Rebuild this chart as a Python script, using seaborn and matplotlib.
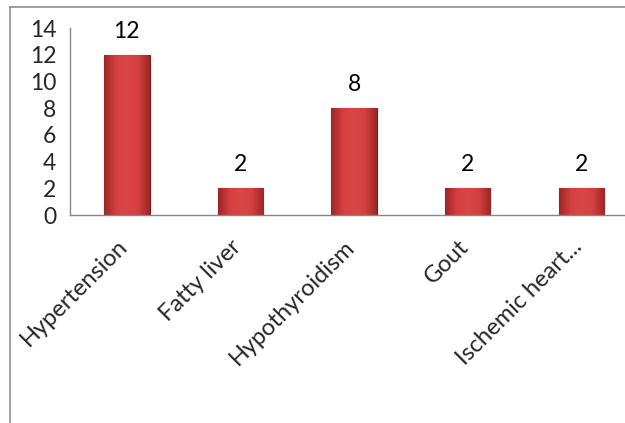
import numpy as np
import matplotlib
matplotlib.use('Agg')
import matplotlib.pyplot as plt
import seaborn as sns
from matplotlib.lines import Line2D
from matplotlib.colors import LinearSegmentedColormap
from matplotlib.transforms import ScaledTranslation

# data
categories = ['Hypertension', 'Fatty liver', 'Hypothyroidism', 'Gout', 'Ischemic heart...']
counts = [12, 2, 8, 2, 2]
yticks = [0, 2, 4, 6, 8, 10, 12, 14]

sns.set_style('white')
plt.rcParams['font.family'] = ['Lato', 'DejaVu Sans']

fig = plt.figure(figsize=(6.25, 4.23), dpi=100)
ax = fig.add_axes([0.112, 0.4917, 0.909, 0.442])

sns.barplot(x=categories, y=counts, color='#C63A3A', width=0.4, ax=ax,
            edgecolor='#7E1A1A', linewidth=0.8)

# bevel-ish gradient on each bar
cmap = LinearSegmentedColormap.from_list('bev', ['#9E2626', '#D43F3F', '#DA4646', '#D43F3F', '#9E2626'])
grad = np.linspace(0, 1, 64).reshape(1, -1)
for p in ax.patches:
    x0, y0 = p.get_x(), p.get_y()
    w, h = p.get_width(), p.get_height()
    im = ax.imshow(grad, extent=[x0, x0 + w, y0, y0 + h], aspect='auto',
                   cmap=cmap, zorder=p.get_zorder() + 0.1)
    im.set_clip_path(p)
    ax.text(x0 + w / 2, h + 1.75, str(int(h)), ha='center', va='center',
            fontsize=16.5, color='black')

ax.set_xlim(-0.5, len(categories) - 0.5)
ax.set_ylim(0, 14)
ax.set_yticks(yticks)
ax.set_yticklabels([str(v) for v in yticks], fontsize=16.5)

# ticks at category boundaries, labels at centres
ax.set_xticks(np.arange(-0.5, len(categories), 1.0))
ax.set_xticklabels([])
ax.set_xticks(np.arange(len(categories)), minor=True)
ax.set_xticklabels(categories, minor=True, rotation=45, ha='right',
                   rotation_mode='anchor', fontsize=17)
ax.tick_params(axis='x', which='minor', length=0, pad=15)
ax.tick_params(axis='x', which='major', length=6, color='#868686', width=1, direction='out')
ax.tick_params(axis='y', length=6, color='#868686', width=1, direction='out', pad=4)

shift = ScaledTranslation(-10 / 100, 0, fig.dpi_scale_trans)
for lab in ax.get_xticklabels(minor=True):
    lab.set_transform(lab.get_transform() + shift)

for s in ['top', 'right']:
    ax.spines[s].set_visible(False)
for s in ['left', 'bottom']:
    ax.spines[s].set_color('#868686')
    ax.spines[s].set_linewidth(1)

# outer chart frame (top and left edges visible)
fig.add_artist(Line2D([10 / 625, 1], [1 - 7 / 423, 1 - 7 / 423], color='#8C8C8C', lw=1.2))
fig.add_artist(Line2D([10 / 625, 10 / 625], [0, 1 - 7 / 423], color='#8C8C8C', lw=1.2))

fig.savefig('out.png', dpi=100)
